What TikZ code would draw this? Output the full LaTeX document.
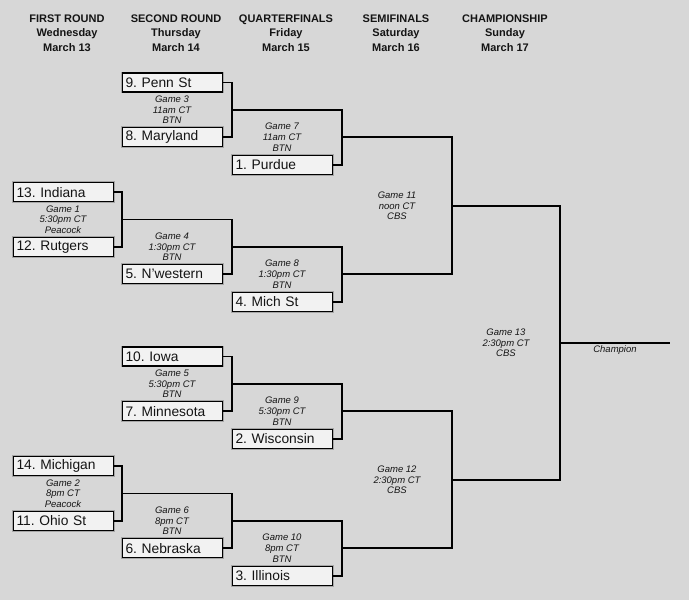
\documentclass[tikz,border=0pt]{standalone}
\usepackage{fontspec}
\setmainfont{Liberation Sans}
\usetikzlibrary{positioning,calc}
\frenchspacing
\definecolor{bg}{RGB}{215,215,215}
\definecolor{boxfill}{RGB}{242,242,242}
\definecolor{ink}{RGB}{20,20,20}
\tikzset{
  team/.style ={draw=black,line width=1.1pt,fill=boxfill,anchor=west,
                text width=94pt,inner xsep=3pt,inner ysep=0pt,minimum height=19pt,
                font=\fontsize{13.8}{14}\selectfont,text=ink,
                preaction={draw=gray!70,line width=2.8pt}},
  game/.style ={align=center,font=\itshape\fontsize{9.5}{10.7}\selectfont,
                text=ink,inner sep=0pt},
  head/.style ={align=center,font=\bfseries\fontsize{11}{14.5}\selectfont,
                text=ink,inner sep=0pt},
  br/.style   ={line width=1.9pt,line join=miter},
}
\newcommand{\gm}[3]{Game #1\\#2\\#3}

\begin{document}
\begin{tikzpicture}[x=1pt,y=-1pt]
\fill[bg] (0,0) rectangle (689,600);
\useasboundingbox (0,0) rectangle (689,600);

% round headings
\node[head] (HR1) at (67,33)  {FIRST ROUND\\Wednesday\\March 13};
\node[head] (HR2) at (176,33) {SECOND ROUND\\Thursday\\March 14};
\node[head] (HR3) at (286,33) {QUARTERFINALS\\Friday\\March 15};
\node[head] (HR4) at (396,33) {SEMIFINALS\\Saturday\\March 16};
\node[head] (HR5) at (505,33) {CHAMPIONSHIP\\Sunday\\March 17};

% teams
\node[team] (IND)  at (13,192.1)  {13. Indiana};
\node[team] (RUT)  at (13,246.9)  {12. Rutgers};
\node[team] (MICH) at (13,466.1)  {14. Michigan};
\node[team] (OSU)  at (13,520.9)  {11. Ohio St};

\node[team] (PSU)  at (122,82.5)  {9. Penn St};
\node[team] (MD)   at (122,137.3) {8. Maryland};
\node[team] (NW)   at (122,274.3) {5. N'western};
\node[team] (IOWA) at (122,356.5) {10. Iowa};
\node[team] (MINN) at (122,411.3) {7. Minnesota};
\node[team] (NEB)  at (122,548.3) {6. Nebraska};

\node[team] (PUR)  at (232,164.7) {1. Purdue};
\node[team] (MSU)  at (232,301.7) {4. Mich St};
\node[team] (WIS)  at (232,438.7) {2. Wisconsin};
\node[team] (ILL)  at (232,575.7) {3. Illinois};

% winners
\coordinate (W1)  at (122,219.5);
\coordinate (W2)  at (122,493.5);
\coordinate (W3)  at (232,109.9);
\coordinate (W4)  at (232,246.9);
\coordinate (W5)  at (232,383.9);
\coordinate (W6)  at (232,520.9);
\coordinate (W7)  at (342,137.3);
\coordinate (W8)  at (342,274.3);
\coordinate (W9)  at (342,411.3);
\coordinate (W10) at (342,548.3);
\coordinate (W11) at (452,205.8);
\coordinate (W12) at (452,479.8);
\coordinate (W13) at (560,342.8);
\coordinate (END) at (670,342.8);

% game labels
\node[game] (G1)  at ([xshift=-59pt]W1)  {\gm{1}{5:30pm CT}{Peacock}};
\node[game] (G2)  at ([xshift=-59pt]W2)  {\gm{2}{8pm CT}{Peacock}};
\node[game] (G3)  at ([xshift=-60pt]W3)  {\gm{3}{11am CT}{BTN}};
\node[game] (G4)  at ([xshift=-60pt]W4)  {\gm{4}{1:30pm CT}{BTN}};
\node[game] (G5)  at ([xshift=-60pt]W5)  {\gm{5}{5:30pm CT}{BTN}};
\node[game] (G6)  at ([xshift=-60pt]W6)  {\gm{6}{8pm CT}{BTN}};
\node[game] (G7)  at ([xshift=-60pt]W7)  {\gm{7}{11am CT}{BTN}};
\node[game] (G8)  at ([xshift=-60pt]W8)  {\gm{8}{1:30pm CT}{BTN}};
\node[game] (G9)  at ([xshift=-60pt]W9)  {\gm{9}{5:30pm CT}{BTN}};
\node[game] (G10) at ([xshift=-60pt]W10) {\gm{10}{8pm CT}{BTN}};
\node[game] (G11) at ([xshift=-55pt]W11) {\gm{11}{noon CT}{CBS}};
\node[game] (G12) at ([xshift=-55pt]W12) {\gm{12}{2:30pm CT}{CBS}};
\node[game] (G13) at ([xshift=-54pt]W13) {\gm{13}{2:30pm CT}{CBS}};
\node[game,anchor=north] (CH) at ($(W13)!.5!(END)+(0,3)$) {Champion};

% brackets
\draw[br] (IND.east) -| (W1) |- (RUT.east);
\draw[br] (MICH.east) -| (W2) |- (OSU.east);
\draw[br] (PSU.east) -| (W3) |- (MD.east);
\draw[br] (W1) -| (W4) |- (NW.east);
\draw[br] (IOWA.east) -| (W5) |- (MINN.east);
\draw[br] (W2) -| (W6) |- (NEB.east);
\draw[br] (W3) -| (W7) |- (PUR.east);
\draw[br] (W4) -| (W8) |- (MSU.east);
\draw[br] (W5) -| (W9) |- (WIS.east);
\draw[br] (W6) -| (W10) |- (ILL.east);
\draw[br] (W7) -| (W11) |- (W8);
\draw[br] (W9) -| (W12) |- (W10);
\draw[br] (W11) -| (W13) |- (W12);
\draw[br] (W13) -- (END);
\end{tikzpicture}
\end{document}
